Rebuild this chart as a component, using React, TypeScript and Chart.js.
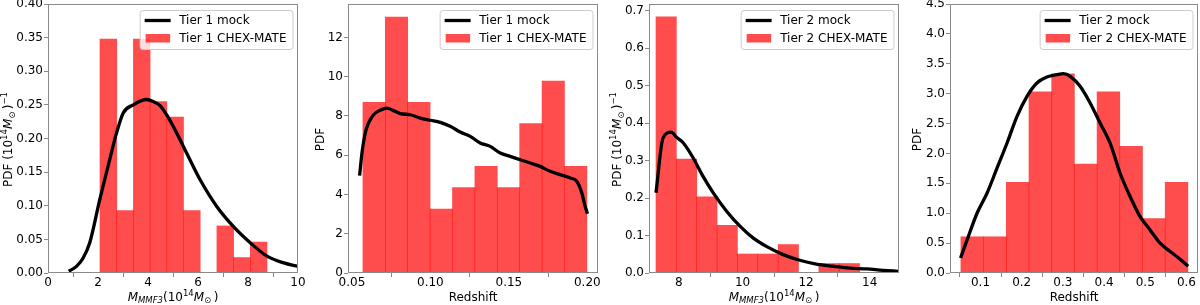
import React, { useEffect, useRef } from 'react';
import { Chart, registerables } from 'chart.js';

Chart.register(...registerables);

const FONT = 'DejaVu Sans';
const BAR_RED = 'rgba(255,0,0,0.7)';
const SPINE = '#8a8a8a';

// ---------- Panel 1: Tier 1, mass ----------
const T1_MASS_BIN_CENTERS = [2.414, 3.082, 3.75, 4.418, 5.086, 5.754, 6.422, 7.09, 7.758, 8.426];
const T1_MASS_PDF = [0.348, 0.093, 0.348, 0.255, 0.232, 0.093, 0, 0.07, 0.023, 0.046];
const T1_MASS_MOCK_X = [0.83, 1.14, 1.4, 1.67, 2.07, 2.47, 2.74, 3.01, 3.41, 3.94, 4.21, 4.48, 4.75, 5.15, 5.55, 6.08, 6.75, 7.42, 8.09, 8.76, 9.43, 10.0];
const T1_MASS_MOCK_PDF = [0.0025, 0.0099, 0.022, 0.045, 0.109, 0.169, 0.208, 0.238, 0.25, 0.258, 0.255, 0.249, 0.235, 0.208, 0.178, 0.139, 0.099, 0.069, 0.045, 0.025, 0.015, 0.0099];
const T1_MASS_XTICKS = [0, 2, 4, 6, 8, 10];
const T1_MASS_YTICKS = [0, 0.05, 0.1, 0.15, 0.2, 0.25, 0.3, 0.35, 0.4];

// ---------- Panel 2: Tier 1, redshift ----------
const T1_Z_BIN_CENTERS = [0.06414, 0.07841, 0.09268, 0.10695, 0.12122, 0.13549, 0.14976, 0.16403, 0.1783, 0.19257];
const T1_Z_PDF = [8.69, 13.04, 8.69, 3.26, 4.35, 5.43, 4.35, 7.61, 9.78, 5.43];
const T1_Z_MOCK_X = [0.0549, 0.0564, 0.0585, 0.0606, 0.0638, 0.068, 0.0723, 0.0765, 0.0808, 0.0872, 0.0935, 0.0999, 0.1063, 0.1126, 0.119, 0.1254, 0.1317, 0.1381, 0.1445, 0.1508, 0.1572, 0.1636, 0.17, 0.1763, 0.1827, 0.1891, 0.1933, 0.1965, 0.1986, 0.2001];
const T1_Z_MOCK_PDF = [4.96, 6.11, 7.13, 7.64, 8.06, 8.29, 8.4, 8.27, 8.12, 8.06, 7.89, 7.78, 7.67, 7.47, 7.18, 6.96, 6.62, 6.45, 6.11, 5.94, 5.77, 5.6, 5.43, 5.18, 5.01, 4.84, 4.67, 4.07, 3.4, 3.02];
const T1_Z_XTICKS = [0.05, 0.1, 0.15, 0.2];
const T1_Z_YTICKS = [0, 2, 4, 6, 8, 10, 12];

// ---------- Panel 3: Tier 2, mass ----------
const T2_MASS_BIN_CENTERS = [7.6, 8.24, 8.88, 9.52, 10.16, 10.8, 11.44, 12.08, 12.72, 13.36];
const T2_MASS_PDF = [0.684, 0.304, 0.203, 0.127, 0.0507, 0.0507, 0.076, 0, 0.0253, 0.0253];
const T2_MASS_MOCK_X = [7.28, 7.5, 7.76, 7.93, 8.14, 8.45, 8.76, 9.08, 9.5, 9.92, 10.34, 10.75, 11.28, 11.8, 12.32, 12.85, 13.37, 13.9, 14.42, 14.89];
const T2_MASS_MOCK_PDF = [0.214, 0.36, 0.376, 0.362, 0.347, 0.307, 0.258, 0.214, 0.165, 0.125, 0.093, 0.071, 0.049, 0.034, 0.024, 0.018, 0.013, 0.011, 0.007, 0.0045];
const T2_MASS_XTICKS = [8, 10, 12, 14];
const T2_MASS_YTICKS = [0, 0.1, 0.2, 0.3, 0.4, 0.5, 0.6, 0.7];

// ---------- Panel 4: Tier 2, redshift ----------
const T2_Z_BIN_CENTERS = [0.08, 0.1351, 0.1902, 0.2453, 0.3004, 0.3555, 0.4106, 0.4657, 0.5208, 0.5759];
const T2_Z_PDF = [0.606, 0.606, 1.515, 3.03, 3.33, 1.82, 3.03, 2.12, 0.91, 1.515];
const T2_Z_MOCK_X = [0.0516, 0.0677, 0.0919, 0.1161, 0.1403, 0.1645, 0.1887, 0.2129, 0.2371, 0.2613, 0.2855, 0.3016, 0.3177, 0.3419, 0.3661, 0.3903, 0.4145, 0.4387, 0.4629, 0.4871, 0.5113, 0.5355, 0.5597, 0.5839, 0.604];
const T2_Z_MOCK_PDF = [0.251, 0.558, 1.004, 1.339, 1.757, 2.175, 2.621, 2.956, 3.179, 3.279, 3.318, 3.335, 3.29, 3.123, 2.844, 2.51, 2.175, 1.673, 1.283, 0.948, 0.725, 0.502, 0.363, 0.234, 0.112];
const T2_Z_XTICKS = [0.1, 0.2, 0.3, 0.4, 0.5, 0.6];
const T2_Z_YTICKS = [0, 0.5, 1, 1.5, 2, 2.5, 3, 3.5, 4, 4.5];

type Seg = { t: string; it?: boolean; sub?: boolean; sup?: boolean };

const MASS_XTITLE: Seg[] = [
  { t: 'M', it: true }, { t: 'MMF3', it: true, sub: true }, { t: '(10' }, { t: '14', sup: true },
  { t: 'M', it: true }, { t: '\u2299', sub: true }, { t: '\u2009)' },
];
const MASS_YTITLE: Seg[] = [
  { t: 'PDF (10' }, { t: '14', sup: true }, { t: 'M', it: true }, { t: '\u2299', sub: true },
  { t: '\u2009)' }, { t: '\u22121', sup: true },
];
const Z_XTITLE: Seg[] = [{ t: 'Redshift' }];
const Z_YTITLE: Seg[] = [{ t: 'PDF' }];

interface PanelCfg {
  padLeft: number; padRight: number; yAxisWidth: number; yTitleOffset: number;
  xMin: number; xMax: number; yMax: number;
  xTicks: number[]; xDec: number; yTicks: number[]; yDec: number;
  bins: number[]; pdf: number[]; mockX: number[]; mockY: number[];
  mockLabel: string; dataLabel: string; xTitle: Seg[]; yTitle: Seg[];
}

const PANELS: PanelCfg[] = [
  { padLeft: 0, padRight: 902, yAxisWidth: 48, yTitleOffset: 36, xMin: 0, xMax: 10, yMax: 0.4,
    xTicks: T1_MASS_XTICKS, xDec: 0, yTicks: T1_MASS_YTICKS, yDec: 2,
    bins: T1_MASS_BIN_CENTERS, pdf: T1_MASS_PDF, mockX: T1_MASS_MOCK_X, mockY: T1_MASS_MOCK_PDF,
    mockLabel: 'Tier 1 mock', dataLabel: 'Tier 1 CHEX-MATE', xTitle: MASS_XTITLE, yTitle: MASS_YTITLE },
  { padLeft: 300, padRight: 602, yAxisWidth: 48, yTitleOffset: 24, xMin: 0.0475, xMax: 0.2068, yMax: 13.7,
    xTicks: T1_Z_XTICKS, xDec: 2, yTicks: T1_Z_YTICKS, yDec: 0,
    bins: T1_Z_BIN_CENTERS, pdf: T1_Z_PDF, mockX: T1_Z_MOCK_X, mockY: T1_Z_MOCK_PDF,
    mockLabel: 'Tier 1 mock', dataLabel: 'Tier 1 CHEX-MATE', xTitle: Z_XTITLE, yTitle: Z_YTITLE },
  { padLeft: 600, padRight: 301, yAxisWidth: 49, yTitleOffset: 28, xMin: 7.06, xMax: 14.92, yMax: 0.718,
    xTicks: T2_MASS_XTICKS, xDec: 0, yTicks: T2_MASS_YTICKS, yDec: 1,
    bins: T2_MASS_BIN_CENTERS, pdf: T2_MASS_PDF, mockX: T2_MASS_MOCK_X, mockY: T2_MASS_MOCK_PDF,
    mockLabel: 'Tier 2 mock', dataLabel: 'Tier 2 CHEX-MATE', xTitle: MASS_XTITLE, yTitle: MASS_YTITLE },
  { padLeft: 900, padRight: 2, yAxisWidth: 50, yTitleOffset: 29, xMin: 0.026, xMax: 0.628, yMax: 4.5,
    xTicks: T2_Z_XTICKS, xDec: 1, yTicks: T2_Z_YTICKS, yDec: 1,
    bins: T2_Z_BIN_CENTERS, pdf: T2_Z_PDF, mockX: T2_Z_MOCK_X, mockY: T2_Z_MOCK_PDF,
    mockLabel: 'Tier 2 mock', dataLabel: 'Tier 2 CHEX-MATE', xTitle: Z_XTITLE, yTitle: Z_YTITLE },
];

function drawRich(ctx: CanvasRenderingContext2D, segs: Seg[], x: number, y: number) {
  const base = 12, small = 8.5;
  const parts = segs.map((s) => {
    const size = s.sub || s.sup ? small : base;
    const font = `${s.it ? 'italic ' : ''}${size}px "${FONT}"`;
    ctx.font = font;
    return { s, font, w: ctx.measureText(s.t).width, dy: s.sub ? 2.8 : s.sup ? -4.8 : 0 };
  });
  const total = parts.reduce((a, p) => a + p.w, 0);
  let cx = x - total / 2;
  ctx.textAlign = 'left';
  ctx.textBaseline = 'alphabetic';
  ctx.fillStyle = '#000';
  for (const p of parts) {
    ctx.font = p.font;
    ctx.fillText(p.s.t, cx, y + p.dy);
    cx += p.w;
  }
}

function makePlugin(cfg: PanelCfg) {
  return {
    id: 'panelDecor',
    afterDatasetsDraw(chart: any) {
      const ctx: CanvasRenderingContext2D = chart.ctx;
      const a = chart.chartArea;
      ctx.save();
      // frame (spines)
      ctx.strokeStyle = SPINE;
      ctx.lineWidth = 1;
      ctx.strokeRect(Math.round(a.left) + 0.5, Math.round(a.top) + 0.5, Math.round(a.right - a.left) - 1, Math.round(a.bottom - a.top) - 1);
      // legend
      ctx.font = `12px "${FONT}"`;
      const tw = Math.max(ctx.measureText(cfg.mockLabel).width, ctx.measureText(cfg.dataLabel).width);
      const w = 39.5 + tw + 6;
      const h = 39;
      const L = a.right - 5.5 - w;
      const T = a.top + 6;
      ctx.beginPath();
      (ctx as any).roundRect(L + 0.5, T + 0.5, w, h, 3);
      ctx.fillStyle = 'rgba(255,255,255,0.8)';
      ctx.fill();
      ctx.strokeStyle = '#cccccc';
      ctx.lineWidth = 1;
      ctx.stroke();
      ctx.beginPath();
      ctx.moveTo(L + 5, T + 10.5);
      ctx.lineTo(L + 31, T + 10.5);
      ctx.strokeStyle = '#000';
      ctx.lineWidth = 3.3;
      ctx.stroke();
      ctx.fillStyle = BAR_RED;
      ctx.fillRect(L + 6, T + 24, 24.5, 8.5);
      ctx.fillStyle = '#000';
      ctx.textAlign = 'left';
      ctx.textBaseline = 'middle';
      ctx.fillText(cfg.mockLabel, L + 39.5, T + 10.5);
      ctx.fillText(cfg.dataLabel, L + 39.5, T + 28.5);
      ctx.restore();
    },
    afterDraw(chart: any) {
      const ctx: CanvasRenderingContext2D = chart.ctx;
      const a = chart.chartArea;
      ctx.save();
      drawRich(ctx, cfg.xTitle, (a.left + a.right) / 2, 300.5);
      ctx.translate(a.left - cfg.yTitleOffset, (a.top + a.bottom) / 2 + 1);
      ctx.rotate(-Math.PI / 2);
      drawRich(ctx, cfg.yTitle, 0, 0);
      ctx.restore();
    },
  };
}

function Panel({ cfg }: { cfg: PanelCfg }) {
  const ref = useRef<HTMLCanvasElement>(null);
  useEffect(() => {
    const tickFont = { family: FONT, size: 12, lineHeight: 1 };
    const chart = new Chart(ref.current as HTMLCanvasElement, {
      type: 'bar',
      data: {
        datasets: [
          {
            type: 'line',
            label: cfg.mockLabel,
            data: cfg.mockX.map((x, i) => ({ x, y: cfg.mockY[i] })),
            borderColor: '#000',
            borderWidth: 3.3,
            pointRadius: 0,
            cubicInterpolationMode: 'monotone',
            fill: false,
            order: 0,
          } as any,
          {
            type: 'bar',
            label: cfg.dataLabel,
            data: cfg.bins.map((x, i) => ({ x, y: cfg.pdf[i] })),
            backgroundColor: BAR_RED,
            borderWidth: 0,
            barPercentage: 1,
            categoryPercentage: 1,
            order: 1,
          } as any,
        ],
      },
      options: {
        responsive: false,
        maintainAspectRatio: false,
        devicePixelRatio: 1,
        animation: false,
        events: [],
        layout: { autoPadding: false, padding: { left: cfg.padLeft, right: cfg.padRight, top: 4, bottom: 0 } },
        plugins: { legend: { display: false }, tooltip: { enabled: false } },
        scales: {
          x: {
            type: 'linear',
            min: cfg.xMin,
            max: cfg.xMax,
            offset: false,
            border: { display: false },
            grid: { display: true, drawOnChartArea: false, drawTicks: true, tickLength: 4, color: SPINE, lineWidth: 1 },
            ticks: {
              color: '#000', font: tickFont, padding: 0, maxRotation: 0, autoSkip: false,
              callback: (v: any) => Number(v).toFixed(cfg.xDec),
            },
            afterBuildTicks: (s: any) => { s.ticks = cfg.xTicks.map((v) => ({ value: v })); },
            afterFit: (s: any) => { s.height = 32; s.paddingLeft = 0; s.paddingRight = 0; s.paddingTop = 0; s.paddingBottom = 0; },
          },
          y: {
            type: 'linear',
            min: 0,
            max: cfg.yMax,
            border: { display: false },
            grid: { display: true, drawOnChartArea: false, drawTicks: true, tickLength: 4, color: SPINE, lineWidth: 1 },
            ticks: {
              color: '#000', font: tickFont, padding: 1, autoSkip: false,
              callback: (v: any) => Number(v).toFixed(cfg.yDec),
            },
            afterBuildTicks: (s: any) => { s.ticks = cfg.yTicks.map((v) => ({ value: v })); },
            afterFit: (s: any) => { s.width = cfg.yAxisWidth; s.paddingLeft = 0; s.paddingRight = 0; s.paddingTop = 0; s.paddingBottom = 0; },
          },
        },
      } as any,
      plugins: [makePlugin(cfg)],
    });
    return () => chart.destroy();
  }, [cfg]);
  return (
    <canvas
      ref={ref}
      width={1200}
      height={305}
      style={{ position: 'absolute', left: 0, top: 0, width: 1200, height: 305 }}
    />
  );
}

export default function App() {
  return (
    <div style={{ position: 'fixed', left: 0, top: 0, width: 1200, height: 305, background: '#fff', overflow: 'hidden' }}>
      {PANELS.map((p, i) => (
        <Panel key={i} cfg={p} />
      ))}
    </div>
  );
}
